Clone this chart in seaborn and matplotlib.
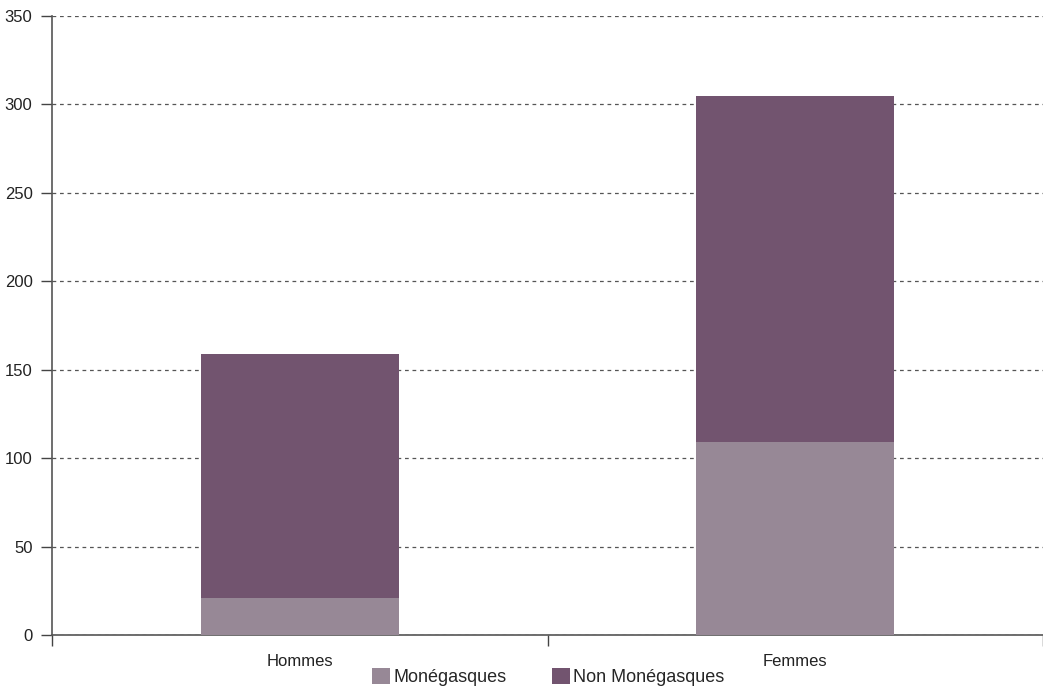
import matplotlib
matplotlib.use("Agg")
import matplotlib.pyplot as plt
import seaborn as sns
import pandas as pd
from matplotlib.patches import Patch
from matplotlib import font_manager

categories = ["Hommes", "Femmes"]
monegasques = [21, 109]
non_monegasques = [138, 196]
series_names = ["Monégasques", "Non Monégasques"]
yticks = [0, 50, 100, 150, 200, 250, 300, 350]

col_mon = "#978896"
col_non = "#72546F"

sns.set_theme(style="white")
names = {f.name for f in font_manager.fontManager.ttflist}
fam = "Liberation Sans Narrow" if "Liberation Sans Narrow" in names else "Liberation Sans"
plt.rcParams["font.family"] = [fam, "DejaVu Sans"]

df = pd.DataFrame({
    "cat": categories,
    "mon": monegasques,
    "total": [m + n for m, n in zip(monegasques, non_monegasques)],
})

fig = plt.figure(figsize=(10.43, 6.91), dpi=100)
ax = fig.add_axes([52 / 1043, 56 / 691, 991 / 1043, 619 / 691])

sns.barplot(data=df, x="cat", y="total", color=col_non, width=0.4,
            saturation=1, ax=ax, zorder=3, linewidth=0, edgecolor="none")
sns.barplot(data=df, x="cat", y="mon", color=col_mon, width=0.4,
            saturation=1, ax=ax, zorder=4, linewidth=0, edgecolor="none")

ax.set_xlim(-0.5, 1.5)
ax.set_ylim(0, 350)
ax.set_yticks(yticks)
ax.set_yticklabels([str(t) for t in yticks], fontsize=12, color="#222222")
ax.yaxis.grid(True, linestyle=(0, (3, 3)), color="#555555", linewidth=0.9, zorder=0)
ax.set_axisbelow(True)
ax.set_xlabel("")
ax.set_ylabel("")
ax.set_xticks([0, 1])
ax.set_xticklabels(categories, fontsize=12, color="#222222")
ax.set_xticks([-0.5, 0.5, 1.5], minor=True)
ax.tick_params(axis="x", which="major", bottom=True, length=0, pad=14)
ax.tick_params(axis="x", which="minor", bottom=True, length=8, width=1, color="#444444", direction="out")
ax.tick_params(axis="y", which="major", left=True, length=8, width=1, color="#444444", direction="out", pad=6)

for s in ["top", "right"]:
    ax.spines[s].set_visible(False)
for s in ["left", "bottom"]:
    ax.spines[s].set_color("#555555")
    ax.spines[s].set_linewidth(1.2)

handles = [Patch(facecolor=col_mon, edgecolor="none"), Patch(facecolor=col_non, edgecolor="none")]
fig.legend(handles, series_names, loc="lower center", bbox_to_anchor=(548 / 1043, -0.016),
           ncol=2, frameon=False, fontsize=13, handlelength=1.0, handleheight=1.0,
           handletextpad=0.2, columnspacing=2.5)

fig.savefig("out.png", dpi=100)
